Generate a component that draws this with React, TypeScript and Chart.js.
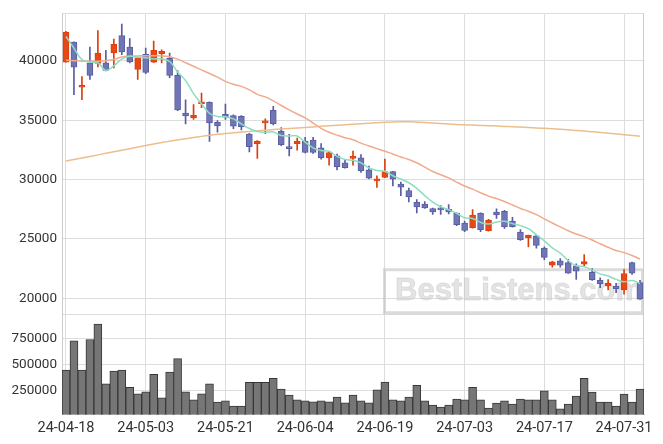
import React, { useEffect, useRef } from 'react';
import { Chart, registerables } from 'chart.js';

Chart.register(...registerables);

const dates = [
  '24-04-18', '24-04-19', '24-04-22', '24-04-23', '24-04-24', '24-04-25', '24-04-26', '24-04-29', '24-04-30', '24-05-02',
  '24-05-03', '24-05-07', '24-05-08', '24-05-09', '24-05-10', '24-05-13', '24-05-14', '24-05-16', '24-05-17', '24-05-20',
  '24-05-21', '24-05-22', '24-05-23', '24-05-24', '24-05-27', '24-05-28', '24-05-29', '24-05-30', '24-05-31', '24-06-03',
  '24-06-04', '24-06-05', '24-06-07', '24-06-10', '24-06-11', '24-06-12', '24-06-13', '24-06-14', '24-06-17', '24-06-18',
  '24-06-19', '24-06-20', '24-06-21', '24-06-24', '24-06-25', '24-06-26', '24-06-27', '24-06-28', '24-07-01', '24-07-02',
  '24-07-03', '24-07-04', '24-07-05', '24-07-08', '24-07-09', '24-07-10', '24-07-11', '24-07-12', '24-07-15', '24-07-16',
  '24-07-17', '24-07-18', '24-07-19', '24-07-22', '24-07-23', '24-07-24', '24-07-25', '24-07-26', '24-07-29', '24-07-30',
  '24-07-31', '24-08-01', '24-08-02',
];

const openPrices = [
  39900, 41580, 37780, 39830, 39780, 39830, 40670, 42140, 41170, 39280,
  40560, 39890, 40610, 40220, 38780, 35610, 35190, 36390, 36500, 34830,
  35500, 35390, 35330, 33830, 33030, 34780, 35830, 34060, 32750, 33030,
  33250, 33330, 32670, 31830, 32000, 31420, 31780, 31830, 30810, 29890,
  30190, 30670, 29610, 29080, 28080, 27940, 27560, 27580, 27500, 27170,
  26330, 25940, 27170, 25690, 27250, 27330, 26500, 25580, 25110, 25250,
  24220, 22780, 23140, 23000, 22720, 22860, 22190, 21500, 21030, 21030,
  20690, 23000, 21310,
];

const highPrices = [
  42500, 41600, 38670, 41170, 42560, 40890, 41830, 43110, 41890, 40300,
  41080, 41670, 40940, 40670, 39190, 36720, 36330, 37280, 36550, 34970,
  36360, 35450, 35400, 33900, 33280, 35110, 36170, 34390, 33810, 33500,
  33560, 33560, 33030, 32300, 32140, 31640, 32390, 32110, 31140, 30310,
  31720, 30700, 29780, 29280, 28310, 28140, 27600, 27810, 27890, 27200,
  26500, 27470, 27200, 26640, 27530, 27400, 26810, 25780, 25330, 25330,
  24330, 23100, 23330, 23280, 22900, 23670, 22500, 21720, 21560, 21250,
  22420, 23050, 21500,
];

const lowPrices = [
  39900, 37150, 36730, 38450, 39500, 39150, 39420, 40530, 39830, 38450,
  38920, 39850, 39830, 38580, 35800, 34690, 35060, 36060, 33220, 34000,
  35060, 34280, 34190, 32330, 31780, 33860, 34600, 32860, 32000, 32470,
  32250, 32200, 31720, 31220, 30810, 30950, 31220, 30610, 30060, 29330,
  30150, 29470, 28640, 28110, 27190, 27560, 27060, 27060, 27110, 26110,
  25610, 25900, 25610, 25650, 26720, 25890, 25990, 24880, 24330, 24220,
  23250, 22610, 22610, 22080, 21580, 22690, 21500, 20890, 20690, 20470,
  20330, 22000, 19900,
];

const closePrices = [
  42400, 39480, 37900, 38780, 40670, 39200, 41390, 40750, 39920, 40250,
  39030, 40890, 40810, 38780, 35860, 35360, 35420, 36500, 34780, 34530,
  35250, 34500, 34440, 32780, 33250, 34890, 34690, 32940, 32610, 33250,
  32280, 32280, 31830, 32280, 31080, 31000, 31920, 30750, 30110, 30060,
  30670, 30030, 29360, 28530, 27690, 27610, 27280, 27440, 27280, 26190,
  25720, 27000, 25780, 26580, 27030, 26000, 26030, 24940, 25310, 24440,
  23440, 23060, 22780, 22110, 22280, 23080, 21560, 21220, 21250, 20810,
  22080, 22110, 19940,
];

const volumes = [
  447500, 731000, 447500, 743000, 893000, 314000, 438000, 447500, 282000, 218500,
  237600, 406500, 180300, 428400, 559000, 237600, 161300, 218500, 314000, 139300,
  151700, 101100, 101100, 330200, 330200, 330200, 368300, 263400, 206100, 161300,
  151700, 142200, 151700, 142200, 187000, 132600, 206100, 151700, 132600, 256700,
  333000, 161300, 151700, 187000, 301500, 151700, 110700, 91600, 110700, 168000,
  161300, 282000, 161300, 82000, 129800, 151700, 120200, 168000, 161300, 161300,
  247100, 161300, 72500, 120200, 196600, 368300, 234700, 139300, 139300, 101100,
  215700, 139300, 263400,
];

const ma5 = [
  42060, 41080, 40110, 39890, 39846, 39206, 39588, 40158, 40386, 40302,
  40268, 40168, 40180, 39952, 39074, 38340, 37246, 36384, 35584, 35318,
  35296, 35112, 34700, 34300, 34044, 33972, 34010, 33710, 33676, 33676,
  33154, 32672, 32450, 32384, 31950, 31694, 31622, 31406, 30972, 30768,
  30702, 30324, 30046, 29730, 29256, 28644, 28094, 27710, 27460, 27160,
  26782, 26726, 26394, 26254, 26422, 26478, 26284, 26116, 25862, 25344,
  24832, 24238, 23806, 23166, 22734, 22662, 22362, 22050, 21878, 21584,
  21384, 21494, 21238,
];

const ma20 = [
  40060, 40020, 39980, 39970, 39970, 40020, 40120, 40330, 40400, 40420,
  40430, 40430, 40420, 40350, 40150, 39850, 39550, 39240, 38940, 38635,
  38278, 38029, 37856, 37556, 37185, 36969, 36634, 36244, 35878, 35528,
  35191, 34760, 34311, 33986, 33747, 33529, 33354, 33067, 32833, 32610,
  32381, 32157, 31903, 31691, 31413, 31049, 30678, 30403, 30137, 29784,
  29456, 29192, 28889, 28604, 28402, 28152, 27857, 27567, 27327, 27046,
  26684, 26336, 26007, 25686, 25415, 25189, 24903, 24592, 24290, 24021,
  23839, 23595, 23303,
];

const ma120 = [
  31560, 31690, 31820, 31950, 32080, 32210, 32340, 32470, 32600, 32740,
  32880, 33000, 33120, 33230, 33340, 33440, 33540, 33640, 33730, 33810,
  33880, 33940, 34000, 34060, 34110, 34160, 34210, 34260, 34300, 34340,
  34390, 34440, 34490, 34530, 34570, 34620, 34660, 34700, 34740, 34780,
  34820, 34860, 34880, 34870, 34840, 34800, 34760, 34720, 34680, 34640,
  34610, 34590, 34560, 34540, 34510, 34480, 34450, 34420, 34390, 34350,
  34320, 34280, 34240, 34190, 34140, 34090, 34030, 33970, 33910, 33850,
  33780, 33720, 33660,
];

const priceTicks = [20000, 25000, 30000, 35000, 40000];
const volumeTicks = [250000, 500000, 750000];

const UP_FILL = 'rgb(230, 72, 22)';
const UP_LINE = 'rgb(222, 62, 14)';
const DOWN_FILL = 'rgb(112, 117, 182)';
const DOWN_LINE = 'rgb(88, 93, 163)';
const GRID = '#dddddd';
const AXIS = '#cccccc';
const TEXT = '#333333';

const watermark = {
  id: 'watermark',
  beforeDatasetsDraw(chart: any) {
    const { ctx, chartArea } = chart;
    const y = chart.scales.y;
    const right = chartArea.right;
    const bottom = y.bottom;
    const w = 261;
    const h = 46;
    ctx.save();
    ctx.strokeStyle = 'rgba(190,190,190,0.55)';
    ctx.lineWidth = 3;
    ctx.strokeRect(right - w + 1.5, bottom - h + 1.5, w - 3, h - 3);
    ctx.font = 'bold 31px "Liberation Sans", Arial, sans-serif';
    ctx.textBaseline = 'alphabetic';
    ctx.textAlign = 'left';
    ctx.fillStyle = 'rgba(210,210,210,0.6)';
    ctx.fillText('BestListens.com', right - w + 12, bottom - 14);
    ctx.strokeStyle = 'rgba(185,185,185,0.35)';
    ctx.lineWidth = 1;
    ctx.strokeText('BestListens.com', right - w + 12, bottom - 14);
    ctx.restore();
  },
};

const frame = {
  id: 'frame',
  beforeDatasetsDraw(chart: any) {
    const { ctx, chartArea } = chart;
    ctx.save();
    ctx.strokeStyle = AXIS;
    ctx.lineWidth = 1;
    ctx.beginPath();
    ctx.moveTo(Math.round(chartArea.right) - 0.5, chartArea.top);
    ctx.lineTo(Math.round(chartArea.right) - 0.5, chartArea.bottom);
    ctx.stroke();
    ctx.restore();
  },
};

export default function App() {
  const ref = useRef<HTMLCanvasElement>(null);

  useEffect(() => {
    if (!ref.current) return;
    Chart.defaults.font.family = 'Roboto';
    const up = closePrices.map((c, i) => c >= openPrices[i]);
    const fills = up.map((u) => (u ? UP_FILL : DOWN_FILL));
    const lines = up.map((u) => (u ? UP_LINE : DOWN_LINE));

    const chart = new Chart(ref.current, {
      type: 'bar',
      data: {
        labels: dates,
        datasets: [
          { type: 'line', label: 'MA5', data: ma5, yAxisID: 'y', borderColor: 'rgb(140, 222, 192)', borderWidth: 1.5, pointRadius: 0, tension: 0.4, order: 0 } as any,
          { type: 'line', label: 'MA20', data: ma20, yAxisID: 'y', borderColor: 'rgb(240, 170, 140)', borderWidth: 1.5, pointRadius: 0, tension: 0.4, order: 0 } as any,
          { type: 'line', label: 'MA120', data: ma120, yAxisID: 'y', borderColor: 'rgb(236, 190, 142)', borderWidth: 1.5, pointRadius: 0, tension: 0.4, order: 0 } as any,
          {
            label: 'body',
            data: openPrices.map((o, i) => [o, closePrices[i]]),
            yAxisID: 'y',
            backgroundColor: fills,
            borderColor: lines,
            borderWidth: 1,
            borderSkipped: false,
            barThickness: 6,
            minBarLength: 2,
            grouped: false,
            order: 2,
          } as any,
          {
            label: 'wick',
            data: lowPrices.map((l, i) => [l, highPrices[i]]),
            yAxisID: 'y',
            backgroundColor: lines,
            borderWidth: 0,
            barThickness: 1,
            grouped: false,
            order: 3,
          } as any,
          {
            label: 'volume',
            data: volumes,
            yAxisID: 'yv',
            backgroundColor: 'rgb(118, 118, 118)',
            borderColor: 'rgb(55, 55, 55)',
            borderWidth: 1,
            barPercentage: 1,
            categoryPercentage: 1,
            grouped: false,
            order: 4,
          } as any,
        ],
      },
      options: {
        animation: false,
        responsive: false,
        events: [],
        layout: { padding: { left: 12, right: 19, top: 4, bottom: 2 } },
        plugins: { legend: { display: false }, tooltip: { enabled: false } },
        scales: {
          x: {
            type: 'category',
            offset: true,
            grid: { offset: false, color: GRID, drawTicks: false },
            border: { color: AXIS },
            ticks: {
              autoSkip: false,
              maxRotation: 0,
              padding: 5,
              color: TEXT,
              font: { size: 14.5 },
              callback: (_v: any, i: number) => (i % 10 === 0 ? dates[i] : null),
            },
          },
          yv: {
            type: 'linear',
            position: 'left',
            stack: 'panels',
            stackWeight: 1,
            min: 18000,
            max: 987000,
            afterFit: (s: any) => { s.width = 50; },
            afterBuildTicks: (s: any) => { s.ticks = volumeTicks.map((v) => ({ value: v })); },
            grid: { color: GRID, drawTicks: false },
            border: { color: AXIS },
            ticks: { padding: 5, color: TEXT, font: { size: 13.5 }, callback: (v: any) => String(v) },
          },
          y: {
            type: 'linear',
            position: 'left',
            stack: 'panels',
            stackWeight: 3,
            min: 18650,
            max: 44030,
            afterFit: (s: any) => { s.width = 50; },
            afterBuildTicks: (s: any) => {
              s.ticks = [s.min, ...priceTicks, s.max].map((v) => ({ value: v }));
            },
            grid: { color: GRID, drawTicks: false },
            border: { color: AXIS },
            ticks: {
              padding: 5,
              color: TEXT,
              font: { size: 13.5 },
              callback: (v: any) => (priceTicks.includes(v) ? String(v) : ''),
            },
          },
        },
      } as any,
      plugins: [watermark, frame],
    });
    return () => chart.destroy();
  }, []);

  return (
    <div style={{ position: 'absolute', left: 0, top: 0, width: 663, height: 444, background: '#fff' }}>
      <canvas ref={ref} width={663} height={444} style={{ width: 663, height: 444 }} />
    </div>
  );
}
